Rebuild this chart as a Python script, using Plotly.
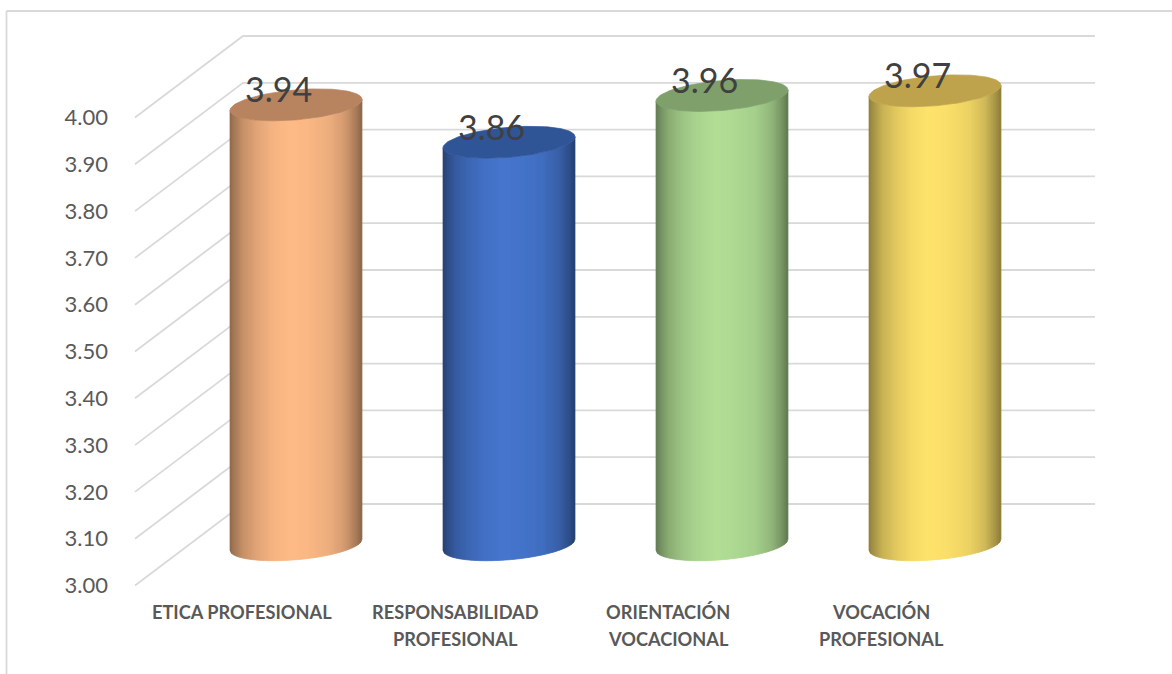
import numpy as np
import plotly.graph_objects as go

# ---- data ----
categories = [["ETICA PROFESIONAL"], ["RESPONSABILIDAD", "PROFESIONAL"],
              ["ORIENTACIÓN", "VOCACIONAL"], ["VOCACIÓN", "PROFESIONAL"]]
values = [3.94, 3.86, 3.96, 3.97]
y_ticks = [3.0, 3.1, 3.2, 3.3, 3.4, 3.5, 3.6, 3.7, 3.8, 3.9, 4.0]
mid_colors = ["#FFBB87", "#4676CE", "#B2DE96", "#FFE36C"]
top_colors = ["#B8835F", "#2F5597", "#7F9F6B", "#BFA34C"]
grid_color = "#D9D9D9"
text_color = "#595959"
label_color = "#404040"

# ---- geometry (pixels of the 1172x674 page -> axis ranges) ----
W, H = 1172, 674
PLOT_L, PLOT_B = 112, 600
PX_X = 213.0            # pixels per category
PX_Y = 468.0            # pixels per value unit
X0 = 296.0              # pixel x of first category
Y4 = 117.5              # pixel y of value 4.00 at the front edge
DEPTH = 81.5 / PX_Y     # rise of the floor, in value units
SKEW_X = 108 / PX_X     # run of the floor, in category units
R_X = 66 / PX_X
R_TILT = 5.5 / PX_Y
R_Y = 15.0 / PX_Y
FRONT_X = (135 - X0) / PX_X
END_X = (1095 - X0) / PX_X

x_range = [(PLOT_L - X0) / PX_X, (W - X0) / PX_X]
y_range = [4 - (PLOT_B - Y4) / PX_Y, 4 + Y4 / PX_Y]

STOPS = [0, .04, .10, .20, .32, .46, .60, .76, .88, .96, 1]
SHADE = [.56, .66, .78, .88, .96, 1.0, .98, .93, .82, .66, .55]


def rgb(hexstr):
    return np.array([int(hexstr[i:i + 2], 16) for i in (1, 3, 5)], float)


def shaded(hexstr, frac):
    c = rgb(hexstr) * np.interp(frac, STOPS, SHADE)
    return "rgb(%d,%d,%d)" % tuple(np.clip(c, 0, 255))


fig = go.Figure()

# oblique floor + back-wall gridlines
for t in y_ticks:
    fig.add_trace(go.Scatter(
        x=[FRONT_X, FRONT_X + SKEW_X, END_X], y=[t, t + DEPTH, t + DEPTH],
        mode="lines", line=dict(color=grid_color, width=1.8),
        hoverinfo="skip", showlegend=False))

# cylinders
N = 66
for i, v in enumerate(values):
    top_c = v + DEPTH / 2
    bot_c = y_ticks[0] + DEPTH / 2
    u = np.linspace(-1, 1, N + 1)
    for k in range(N):
        ul, ur = u[k], u[k + 1]
        a = np.linspace(ul, ur, 3)
        lower = -np.sqrt(np.clip(1 - a ** 2, 0, 1)) * R_Y + a * R_TILT
        xs = i + a * R_X
        px = np.r_[xs, xs[::-1], xs[0]]
        py = np.r_[top_c + lower, (bot_c + lower)[::-1], top_c + lower[0]]
        col = shaded(mid_colors[i], (k + .5) / N)
        fig.add_trace(go.Scatter(
            x=px, y=py, mode="lines", fill="toself", fillcolor=col,
            line=dict(color=col, width=0.7),
            hoverinfo="skip", showlegend=False))
    t = np.linspace(0, 2 * np.pi, 120)
    fig.add_trace(go.Scatter(
        x=i + R_X * np.cos(t),
        y=top_c + R_TILT * np.cos(t) + R_Y * np.sin(t),
        mode="lines", fill="toself", fillcolor=top_colors[i],
        line=dict(color=top_colors[i], width=0.7),
        hoverinfo="skip", showlegend=False))

annotations = []
for i, v in enumerate(values):
    annotations.append(dict(
        x=i, y=v + DEPTH / 2, xref="x", yref="y", text=f"{v:.2f}",
        showarrow=False, xshift=-18, yshift=16, xanchor="center", yanchor="middle",
        font=dict(family="Lato", size=34, color=label_color)))
    for j, line in enumerate(categories[i]):
        annotations.append(dict(
            x=i - SKEW_X / 2, y=(PLOT_B - (612 + 26.5 * j)) / PLOT_B, xref="x", yref="paper",
            yanchor="middle", xanchor="center", text=line, showarrow=False,
            font=dict(family="Lato", size=18.2, color=text_color, weight="bold")))

fig.update_layout(
    width=W, height=H, autosize=False,
    margin=dict(l=PLOT_L, r=0, t=0, b=H - PLOT_B, pad=0),
    paper_bgcolor="white", plot_bgcolor="white",
    showlegend=False,
    xaxis=dict(range=x_range, visible=False, fixedrange=True),
    yaxis=dict(range=y_range, tickmode="array", tickvals=y_ticks,
               ticktext=[f"{t:.2f}" for t in y_ticks],
               tickfont=dict(family="Lato", size=22, color=text_color),
               showgrid=False, zeroline=False, showline=False, ticks="",
               ticklabelstandoff=3, fixedrange=True),
    annotations=annotations,
    shapes=[
        dict(type="line", xref="paper", yref="paper",
             x0=(6.5 - PLOT_L) / (W - PLOT_L), x1=1,
             y0=(PLOT_B - 11) / PLOT_B, y1=(PLOT_B - 11) / PLOT_B,
             line=dict(color=grid_color, width=1.8)),
        dict(type="line", xref="paper", yref="paper",
             x0=(6.5 - PLOT_L) / (W - PLOT_L), x1=(6.5 - PLOT_L) / (W - PLOT_L),
             y0=(PLOT_B - H) / PLOT_B, y1=(PLOT_B - 11) / PLOT_B,
             line=dict(color=grid_color, width=1.8)),
    ],
)
fig.write_html("out.html", config=dict(displayModeBar=False),
               post_script="document.body.style.margin='0';document.body.style.overflow='hidden';")
